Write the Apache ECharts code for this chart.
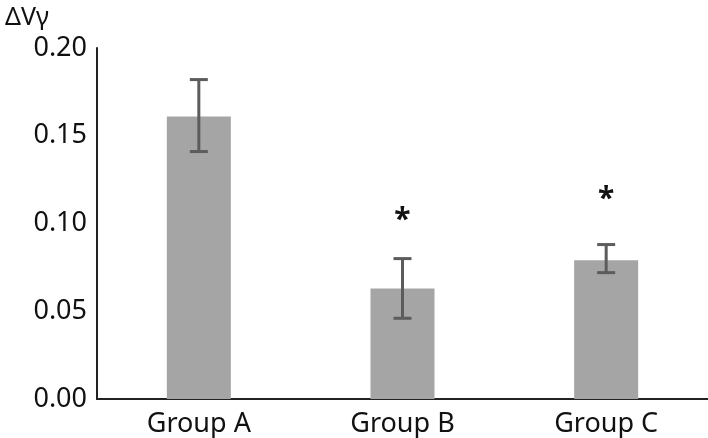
<!DOCTYPE html>
<html>
<head>
<meta charset="utf-8">
<script src="https://cdn.jsdelivr.net/npm/echarts@6/dist/echarts.min.js"></script>
<style>
html,body{margin:0;padding:0;background:#fff;}
#chart{width:708px;height:438px;}
</style>
</head>
<body>
<div id="chart"></div>
<script>
var categories = ['Group A', 'Group B', 'Group C'];
var means = [0.161, 0.063, 0.079];
var errLow = [0.141, 0.046, 0.072];
var errHigh = [0.182, 0.080, 0.088];
var asteriskY = [null, 0.102, 0.1135];
var yTicks = [0, 0.05, 0.10, 0.15, 0.20];
var yTitle = 'ΔVγ';

var FONT = '"Noto Sans", "Open Sans", sans-serif';
var chart = echarts.init(document.getElementById('chart'));

var errData = categories.map(function (c, i) { return [i, errLow[i], errHigh[i]]; });
var starData = categories.map(function (c, i) { return asteriskY[i] == null ? null : [i, asteriskY[i]]; }).filter(function (d) { return d; });

chart.setOption({
  animation: false,
  title: {
    text: yTitle,
    left: 0,
    top: 0,
    textStyle: { fontFamily: FONT, fontSize: 25, fontWeight: 'normal', color: '#111' }
  },
  grid: { left: 97, right: 0, top: 48, bottom: 38, containLabel: false },
  xAxis: {
    type: 'category',
    data: categories,
    axisLine: { lineStyle: { color: '#222', width: 2 } },
    axisTick: { show: false },
    axisLabel: { fontFamily: FONT, fontSize: 27, color: '#111', margin: 12 }
  },
  yAxis: {
    type: 'value',
    min: yTicks[0],
    max: yTicks[yTicks.length - 1],
    interval: 0.05,
    axisLine: { show: true, lineStyle: { color: '#222', width: 2 } },
    axisTick: { show: false },
    splitLine: { show: false },
    axisLabel: {
      fontFamily: FONT, fontSize: 27, color: '#111', margin: 10,
      formatter: function (v) { return v.toFixed(2); }
    }
  },
  series: [
    {
      type: 'bar',
      data: means,
      barWidth: 64,
      itemStyle: { color: '#a5a5a5' }
    },
    {
      type: 'custom',
      data: errData,
      z: 5,
      renderItem: function (params, api) {
        var x = api.value(0);
        var lo = api.coord([x, api.value(1)]);
        var hi = api.coord([x, api.value(2)]);
        var half = 9;
        var style = { stroke: '#5c5c5c', lineWidth: 3 };
        return {
          type: 'group',
          children: [
            { type: 'line', shape: { x1: lo[0], y1: lo[1], x2: hi[0], y2: hi[1] }, style: style },
            { type: 'line', shape: { x1: lo[0] - half, y1: lo[1], x2: lo[0] + half, y2: lo[1] }, style: style },
            { type: 'line', shape: { x1: hi[0] - half, y1: hi[1], x2: hi[0] + half, y2: hi[1] }, style: style }
          ]
        };
      }
    },
    {
      type: 'custom',
      data: starData,
      z: 6,
      renderItem: function (params, api) {
        var p = api.coord([api.value(0), api.value(1)]);
        return {
          type: 'text',
          x: p[0], y: p[1],
          style: {
            text: '*', fontFamily: FONT, fontSize: 30, fontWeight: 'bold', fill: '#111',
            align: 'center', verticalAlign: 'middle'
          }
        };
      }
    }
  ]
});
</script>
</body>
</html>
